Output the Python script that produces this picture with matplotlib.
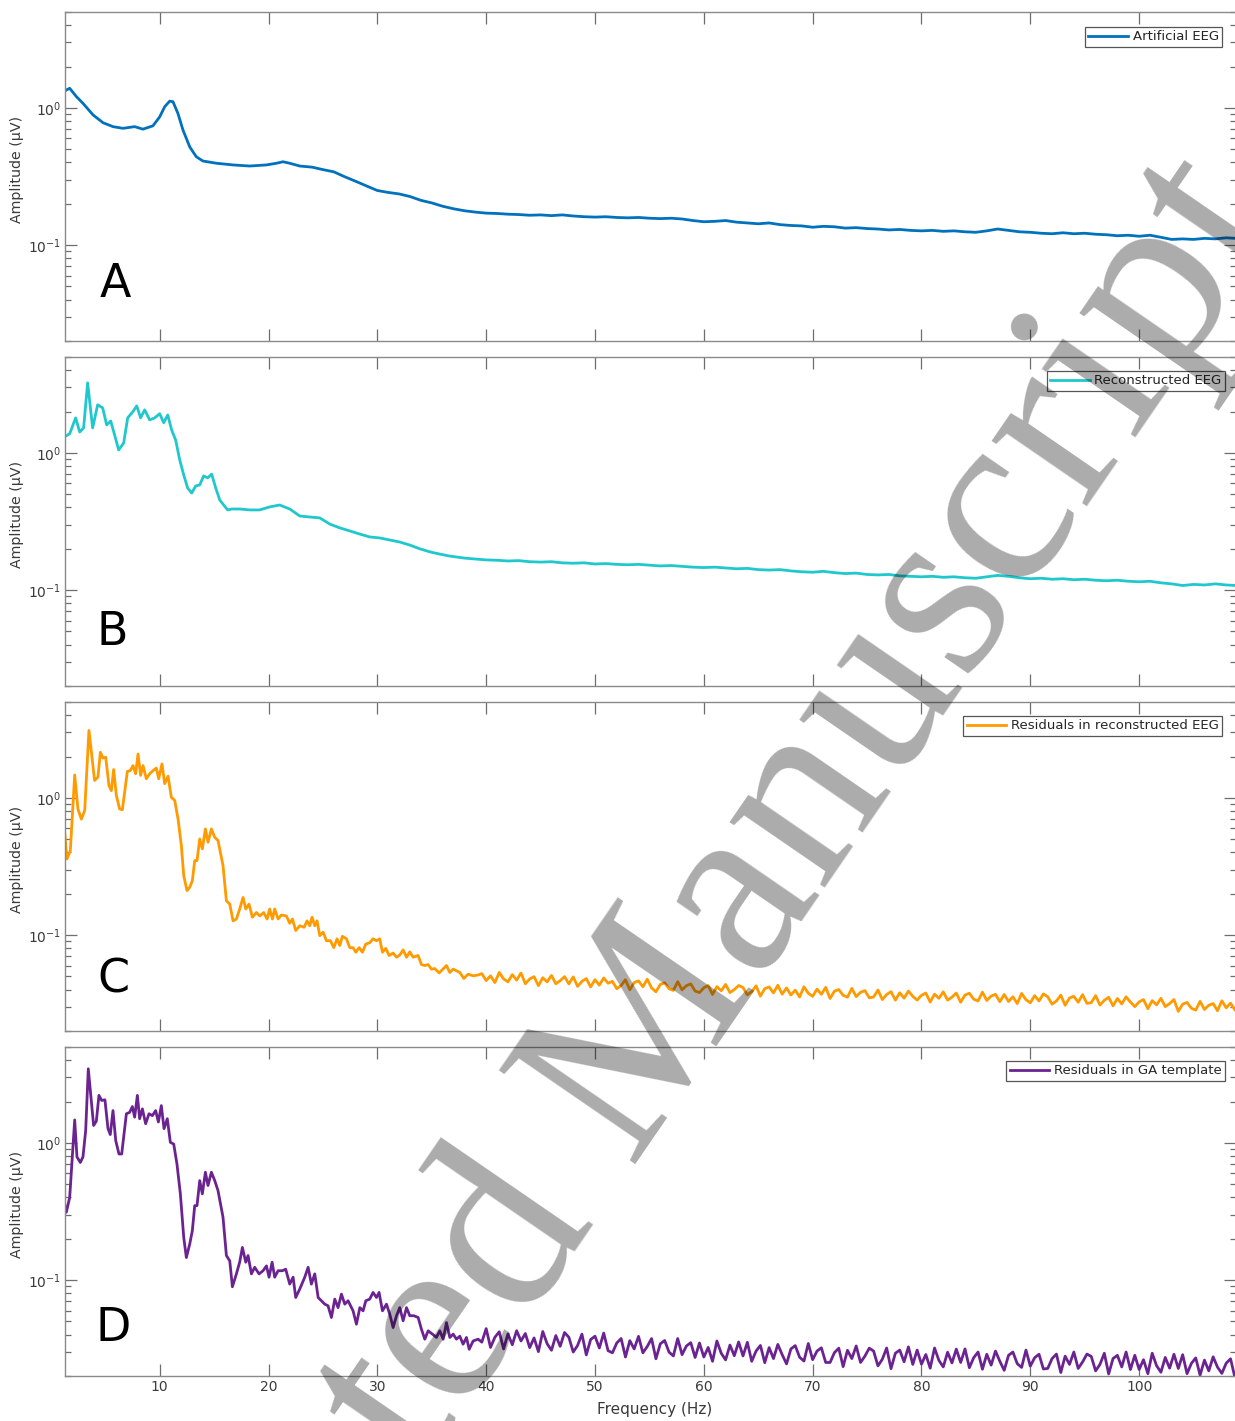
import numpy as np
import matplotlib
matplotlib.use("Agg")
import matplotlib.pyplot as plt
from matplotlib.ticker import LogLocator, NullLocator, NullFormatter, FixedLocator

plt.rcParams['font.family'] = ['DejaVu Sans']

# ---------------- data ----------------
labels = ["Artificial EEG", "Reconstructed EEG",
          "Residuals in reconstructed EEG", "Residuals in GA template"]
panel_letters = ["A", "B", "C", "D"]
colors = ["#0072BD", "#1FC8CC", "#FF9A00", "#6C2392"]

# A: artificial EEG
A_low_f = [1.31, 1.42, 1.73, 2.34, 2.95, 3.87, 4.79, 5.71, 6.63, 7.70, 8.46, 9.38, 10.0, 10.46,
           10.92, 11.22, 11.68, 12.14, 12.76, 13.37, 13.98, 15.21, 16.74, 18.27, 19.81, 20.73,
           21.33, 21.95, 22.87]
A_low_v = [1.33, 1.35, 1.39, 1.21, 1.08, 0.89, 0.78, 0.73, 0.71, 0.73, 0.70, 0.74, 0.86, 1.02,
           1.12, 1.11, 0.91, 0.69, 0.52, 0.44, 0.41, 0.395, 0.384, 0.377, 0.384, 0.395,
           0.405, 0.395, 0.377]
A_high_f = list(range(24, 109)) + [108.9]
A_high_v = [0.370, 0.355, 0.342, 0.315, 0.292, 0.270, 0.250, 0.242, 0.236, 0.226,
            0.212, 0.203, 0.192, 0.184, 0.178, 0.174, 0.171, 0.170, 0.168, 0.167,
            0.165, 0.166, 0.164, 0.166, 0.163, 0.161, 0.160, 0.161, 0.159, 0.158,
            0.159, 0.157, 0.156, 0.157, 0.155, 0.151, 0.148, 0.149, 0.151, 0.147,
            0.145, 0.143, 0.145, 0.141, 0.139, 0.138, 0.135, 0.137, 0.136, 0.133,
            0.134, 0.132, 0.131, 0.129, 0.130, 0.128, 0.127, 0.128, 0.126, 0.127,
            0.125, 0.124, 0.127, 0.131, 0.128, 0.125, 0.124, 0.122, 0.121, 0.123,
            0.121, 0.122, 0.120, 0.119, 0.117, 0.118, 0.116, 0.118, 0.114, 0.110,
            0.111, 0.110, 0.112, 0.111, 0.113, 0.112]

# B: reconstructed EEG
B_low_f = [1.27, 1.73, 2.28, 2.65, 3.01, 3.38, 3.84, 4.30, 4.76, 5.13,
           5.50, 5.86, 6.23, 6.69, 7.06, 7.52, 7.89, 8.25, 8.62, 9.08,
           9.54, 10.0, 10.37, 10.74, 11.10, 11.47, 11.84, 12.21, 12.57, 12.94,
           13.31, 13.68, 14.04, 14.41, 14.78, 15.15, 15.52, 15.88, 16.25, 16.62,
           17.35, 18.27, 19.19, 20.11, 21.03, 21.95, 22.87, 23.79, 24.71, 25.63,
           26.55, 27.47, 28.39, 29.30, 30.22, 31.14, 32.06, 32.98, 33.90, 34.82,
           35.74, 36.66, 38.04, 40.0]
B_low_v = [1.31, 1.38, 1.80, 1.42, 1.52, 3.24, 1.52, 2.24, 2.13, 1.60,
           1.71, 1.35, 1.05, 1.18, 1.80, 1.99, 2.20, 1.80, 2.06, 1.74,
           1.80, 1.93, 1.66, 1.89, 1.47, 1.24, 0.89, 0.69, 0.555, 0.51,
           0.574, 0.584, 0.68, 0.657, 0.70, 0.555, 0.454, 0.417, 0.384, 0.39,
           0.39, 0.384, 0.384, 0.404, 0.417, 0.39, 0.347, 0.341, 0.336, 0.303,
           0.284, 0.27, 0.256, 0.244, 0.24, 0.232, 0.224, 0.213, 0.20, 0.19,
           0.183, 0.177, 0.171, 0.166]
B_high_f = list(range(41, 109)) + [108.9]
B_high_v = [0.165, 0.163, 0.164, 0.161, 0.160, 0.161, 0.158, 0.157, 0.158, 0.155,
            0.156, 0.154, 0.153, 0.154, 0.152, 0.150, 0.151, 0.149, 0.147, 0.146,
            0.147, 0.145, 0.143, 0.144, 0.141, 0.140, 0.141, 0.138, 0.136, 0.135,
            0.137, 0.134, 0.132, 0.133, 0.130, 0.129, 0.130, 0.127, 0.126, 0.125,
            0.126, 0.124, 0.125, 0.123, 0.122, 0.125, 0.128, 0.126, 0.123, 0.121,
            0.122, 0.120, 0.121, 0.119, 0.120, 0.118, 0.117, 0.118, 0.116, 0.115,
            0.116, 0.113, 0.111, 0.108, 0.110, 0.109, 0.111, 0.109, 0.108]

# C: residuals in reconstructed EEG
C_low_f = [1.27, 1.48, 1.79, 2.19, 2.49, 2.80, 3.11, 3.50, 4.02, 4.33,
           4.55, 4.79, 5.04, 5.34, 5.56, 5.77, 6.02, 6.32, 6.57, 7.03,
           7.30, 7.55, 7.79, 8.01, 8.25, 8.47, 8.77, 9.08, 9.39, 9.69,
           9.91, 10.21, 10.46, 10.77, 11.07, 11.38, 11.69, 11.99, 12.21, 12.51,
           12.76, 13.00, 13.22, 13.43, 13.68, 13.92, 14.20, 14.44, 14.75, 15.06,
           15.36, 15.82, 16.13, 16.44, 16.74, 17.05, 17.35, 17.66, 17.91, 18.21,
           18.52, 18.89, 19.19, 19.56, 19.87, 20.11, 20.36, 20.57, 20.88, 21.18,
           21.64, 21.95, 22.20, 22.50, 22.87, 23.27, 23.54, 23.79, 24.00, 24.25,
           24.46, 24.71, 25.02, 25.32, 25.69, 26.00, 26.30, 26.55, 26.79, 27.16,
           27.47, 27.77, 28.02, 28.32, 28.63, 28.94, 29.30, 29.61, 29.92, 30.22,
           30.47, 30.78, 31.08, 31.45, 31.76, 32.06, 32.37, 32.68, 32.98, 33.29,
           33.75, 34.05, 34.36, 34.67, 34.97, 35.28, 35.68, 35.98, 36.35, 36.66,
           36.97, 37.58, 37.95, 38.34, 38.80, 39.26]
C_low_v = [0.562, 0.359, 0.413, 1.47, 0.83, 0.70, 0.81, 3.10, 1.34, 1.42,
           2.15, 1.95, 1.98, 1.23, 1.13, 1.61, 1.04, 0.83, 0.82, 1.56,
           1.58, 1.72, 1.50, 2.09, 1.46, 1.72, 1.38, 1.50, 1.58, 1.65,
           1.38, 1.77, 1.27, 1.44, 1.01, 0.96, 0.70, 0.45, 0.271, 0.211,
           0.223, 0.249, 0.349, 0.349, 0.502, 0.425, 0.594, 0.475, 0.594, 0.516,
           0.489, 0.321, 0.178, 0.168, 0.127, 0.131, 0.155, 0.188, 0.155, 0.168,
           0.135, 0.146, 0.138, 0.146, 0.131, 0.155, 0.131, 0.155, 0.131, 0.140,
           0.138, 0.122, 0.131, 0.108, 0.117, 0.114, 0.127, 0.117, 0.135, 0.117,
           0.127, 0.099, 0.105, 0.091, 0.091, 0.081, 0.094, 0.084, 0.098, 0.094,
           0.081, 0.081, 0.075, 0.081, 0.075, 0.086, 0.088, 0.094, 0.091, 0.094,
           0.075, 0.080, 0.071, 0.074, 0.069, 0.0715, 0.078, 0.069, 0.0755, 0.069,
           0.071, 0.061, 0.060, 0.061, 0.0565, 0.057, 0.053, 0.056, 0.060, 0.0534,
           0.0565, 0.0534, 0.0483, 0.0519, 0.0505, 0.0512]
C_high_v = [0.0524, 0.0466, 0.0505, 0.0451, 0.0534, 0.0480, 0.0456, 0.0515, 0.0470, 0.0529,
            0.0442, 0.0479, 0.0498, 0.0428, 0.0489, 0.0456, 0.0508, 0.0442, 0.0465, 0.0498,
            0.0441, 0.0496, 0.0423, 0.0460, 0.0482, 0.0419, 0.0473, 0.0432, 0.0487, 0.0446,
            0.0460, 0.0407, 0.0429, 0.0473, 0.0399, 0.0451, 0.0464, 0.0420, 0.0477, 0.0412,
            0.0386, 0.0437, 0.0449, 0.0407, 0.0395, 0.0458, 0.0399, 0.0428, 0.0441, 0.0391,
            0.0381, 0.0413, 0.0429, 0.0369, 0.0421, 0.0393, 0.0437, 0.0381, 0.0401, 0.0429,
            0.0415, 0.0367, 0.0387, 0.0427, 0.0359, 0.0407, 0.0419, 0.0379, 0.0431, 0.0371,
            0.0412, 0.0366, 0.0397, 0.0354, 0.0420, 0.0377, 0.0358, 0.0404, 0.0370, 0.0416,
            0.0345, 0.0390, 0.0401, 0.0364, 0.0353, 0.0409, 0.0356, 0.0383, 0.0394, 0.0349,
            0.0354, 0.0398, 0.0339, 0.0369, 0.0387, 0.0336, 0.0380, 0.0347, 0.0391, 0.0358,
            0.0336, 0.0364, 0.0378, 0.0325, 0.0371, 0.0346, 0.0386, 0.0336, 0.0353, 0.0378,
            0.0324, 0.0366, 0.0377, 0.0341, 0.0331, 0.0384, 0.0334, 0.0359, 0.0370, 0.0327,
            0.0369, 0.0328, 0.0355, 0.0317, 0.0376, 0.0338, 0.0321, 0.0362, 0.0331, 0.0373,
            0.0355, 0.0314, 0.0331, 0.0365, 0.0308, 0.0348, 0.0358, 0.0324, 0.0368, 0.0318,
            0.0322, 0.0362, 0.0309, 0.0335, 0.0352, 0.0305, 0.0345, 0.0315, 0.0355, 0.0325,
            0.0301, 0.0326, 0.0339, 0.0291, 0.0333, 0.0310, 0.0346, 0.0301, 0.0317, 0.0339,
            0.0278, 0.0314, 0.0323, 0.0293, 0.0284, 0.0329, 0.0287, 0.0308, 0.0317, 0.0281,
            0.0332, 0.0295, 0.0319, 0.0285]

# D: residuals in GA template
D_low_f = [1.27, 1.42, 1.73, 2.19, 2.40, 2.71, 2.95, 3.20, 3.44, 3.93,
           4.18, 4.42, 4.67, 4.97, 5.25, 5.46, 5.71, 5.96, 6.26, 6.51,
           6.94, 7.24, 7.49, 7.70, 7.95, 8.16, 8.41, 8.71, 9.02, 9.33,
           9.63, 9.88, 10.15, 10.40, 10.70, 10.98, 11.29, 11.59, 11.90, 12.21,
           12.45, 12.76, 13.00, 13.22, 13.43, 13.68, 13.92, 14.20, 14.44, 14.75,
           15.06, 15.36, 15.82, 16.13, 16.44, 16.68, 17.05, 17.35, 17.60, 17.91,
           18.12, 18.43, 18.73, 19.13, 19.50, 19.81, 20.05, 20.33, 20.57, 20.88,
           21.27, 21.58, 21.95, 22.26, 22.50, 22.87, 23.33, 23.64, 23.94, 24.25,
           24.56, 24.86, 25.17, 25.47, 25.78, 26.09, 26.39, 26.70, 27.01, 27.31,
           27.77, 28.08, 28.39, 28.69, 28.94, 29.30, 29.61, 29.92, 30.16, 30.47,
           30.84, 31.14, 31.45, 31.76, 32.06, 32.37, 32.68, 32.98, 33.35, 33.75,
           34.05, 34.36, 34.67, 35.06, 35.43, 35.74, 36.05, 36.35, 36.66, 36.97,
           37.27, 37.58, 37.88, 38.19, 38.44, 38.80, 39.26]
D_low_v = [0.359, 0.312, 0.40, 1.47, 0.79, 0.72, 0.79, 1.23, 3.47, 1.34,
           1.44, 2.22, 2.04, 2.06, 1.27, 1.15, 1.72, 1.04, 0.83, 0.83,
           1.63, 1.67, 1.84, 1.54, 2.22, 1.50, 1.77, 1.38, 1.63, 1.58,
           1.72, 1.42, 1.87, 1.27, 1.50, 1.01, 0.98, 0.70, 0.425, 0.205,
           0.146, 0.183, 0.229, 0.349, 0.349, 0.531, 0.425, 0.611, 0.489, 0.611,
           0.531, 0.449, 0.287, 0.151, 0.138, 0.0894, 0.111, 0.135, 0.173, 0.135,
           0.151, 0.111, 0.124, 0.111, 0.117, 0.127, 0.105, 0.135, 0.105, 0.117,
           0.117, 0.120, 0.0935, 0.105, 0.0747, 0.086, 0.105, 0.124, 0.0935, 0.111,
           0.0747, 0.0707, 0.0668, 0.065, 0.0534, 0.0727, 0.063, 0.079, 0.0668, 0.0707,
           0.0597, 0.0477, 0.063, 0.0597, 0.0707, 0.0727, 0.0813, 0.0747, 0.0813, 0.0597,
           0.0668, 0.0565, 0.0451, 0.055, 0.063, 0.0505, 0.063, 0.055, 0.055, 0.0534,
           0.0439, 0.0371, 0.0427, 0.0404, 0.0382, 0.0427, 0.0371, 0.049, 0.0382, 0.0404,
           0.0371, 0.039, 0.0341, 0.0382, 0.0313, 0.036, 0.0371]
D_high_v = [0.0353, 0.0443, 0.0323, 0.0383, 0.0420, 0.0315, 0.0405, 0.0338, 0.0428, 0.0360,
            0.0408, 0.0322, 0.0379, 0.0301, 0.0422, 0.0344, 0.0308, 0.0394, 0.0329, 0.0415,
            0.0383, 0.0299, 0.0334, 0.0404, 0.0285, 0.0369, 0.0390, 0.0320, 0.0411, 0.0306,
            0.0295, 0.0348, 0.0375, 0.0275, 0.0362, 0.0315, 0.0389, 0.0295, 0.0328, 0.0375,
            0.0267, 0.0343, 0.0363, 0.0299, 0.0280, 0.0375, 0.0286, 0.0331, 0.0350, 0.0273,
            0.0348, 0.0275, 0.0323, 0.0256, 0.0360, 0.0293, 0.0262, 0.0336, 0.0281, 0.0354,
            0.0280, 0.0352, 0.0256, 0.0304, 0.0334, 0.0250, 0.0322, 0.0268, 0.0340, 0.0286,
            0.0245, 0.0315, 0.0333, 0.0274, 0.0257, 0.0345, 0.0263, 0.0304, 0.0321, 0.0251,
            0.0251, 0.0296, 0.0319, 0.0234, 0.0308, 0.0268, 0.0331, 0.0251, 0.0279, 0.0319,
            0.0304, 0.0237, 0.0265, 0.0320, 0.0226, 0.0293, 0.0309, 0.0254, 0.0326, 0.0243,
            0.0309, 0.0244, 0.0287, 0.0228, 0.0320, 0.0260, 0.0233, 0.0298, 0.0249, 0.0314,
            0.0251, 0.0315, 0.0230, 0.0272, 0.0299, 0.0224, 0.0288, 0.0240, 0.0304, 0.0256,
            0.0220, 0.0283, 0.0299, 0.0246, 0.0231, 0.0309, 0.0236, 0.0272, 0.0288, 0.0225,
            0.0227, 0.0268, 0.0289, 0.0212, 0.0279, 0.0243, 0.0299, 0.0227, 0.0253, 0.0289,
            0.0278, 0.0218, 0.0243, 0.0293, 0.0207, 0.0268, 0.0283, 0.0233, 0.0299, 0.0223,
            0.0283, 0.0223, 0.0263, 0.0208, 0.0293, 0.0238, 0.0213, 0.0273, 0.0228, 0.0288,
            0.0227, 0.0286, 0.0208, 0.0247, 0.0271, 0.0203, 0.0261, 0.0218, 0.0276, 0.0232,
            0.0209, 0.0248, 0.0267, 0.0195]

# uniform frequency grid (0.4 Hz) used for the noisy high band of C and D
hf_grid = list(np.linspace(39.6, 108.8, 174))

series_f = [A_low_f + A_high_f, B_low_f + B_high_f,
            C_low_f + hf_grid, D_low_f + hf_grid]
series_v = [A_low_v + A_high_v, B_low_v + B_high_v,
            C_low_v + C_high_v, D_low_v + D_high_v]

x_ticks = [10, 20, 30, 40, 50, 60, 70, 80, 90, 100]

# ---------------- layout ----------------
W, H = 1235, 1421
fig = plt.figure(figsize=(W / 100, H / 100), dpi=100)
fig.patch.set_facecolor("white")

tops = [12, 357, 702, 1047]
axh = 329
left = 65
axw = 1171
letter_pos = [(0.030, 0.134), (0.027, 0.125), (0.028, 0.117), (0.026, 0.107)]
legend_anchor = [(0.988, 0.954), (0.9905, 0.957), (0.988, 0.957), (0.9905, 0.957)]

spine_c = "#8a8a8a"
tick_c = "#6e6e6e"
label_c = "#3a3a3a"

axes = []
for i in range(4):
    ax = fig.add_axes([left / W, 1 - (tops[i] + axh) / H, axw / W, axh / H])
    axes.append(ax)
    f = np.array(series_f[i], dtype=float)
    v = np.array(series_v[i], dtype=float)
    assert len(f) == len(v), (i, len(f), len(v))
    ax.plot(f, v, color=colors[i], lw=2.0, label=labels[i], solid_joinstyle="round")
    ax.set_yscale("log")
    ax.set_ylim(0.02, 5)
    ax.set_xlim(1.3, 108.9)
    ax.xaxis.set_major_locator(FixedLocator(x_ticks))
    ax.xaxis.set_minor_locator(NullLocator())
    ax.yaxis.set_major_locator(LogLocator(base=10, numticks=10))
    ax.yaxis.set_minor_locator(LogLocator(base=10, subs=np.arange(2, 10), numticks=20))
    ax.yaxis.set_minor_formatter(NullFormatter())
    ax.tick_params(which="both", direction="in", top=True, right=True,
                   color=tick_c, labelcolor=label_c, labelsize=10, width=0.9)
    ax.tick_params(which="major", length=8.5, pad=3)
    ax.tick_params(which="minor", length=4.3)
    if i < 3:
        ax.tick_params(axis="x", labelbottom=False)
    for s in ax.spines.values():
        s.set_color(spine_c)
        s.set_linewidth(1.0)
    ax.set_ylabel("Amplitude (µV)", fontsize=10.2, color=label_c)
    ax.yaxis.set_label_coords(-0.035, 0.52)
    ax.text(letter_pos[i][0], letter_pos[i][1], panel_letters[i], transform=ax.transAxes,
            fontsize=33, color="black", ha="left", va="baseline")
    leg = ax.legend(loc="upper right", bbox_to_anchor=legend_anchor[i], borderaxespad=0,
                    fontsize=9.5, frameon=True, fancybox=False, edgecolor="#555555",
                    borderpad=0.25, handlelength=3.0, handletextpad=0.35,
                    framealpha=1.0)
    leg.get_frame().set_linewidth(0.9)
    for t in leg.get_texts():
        t.set_color("#262626")

axes[3].set_xlabel("Frequency (Hz)", fontsize=11, color=label_c)
axes[3].xaxis.set_label_coords((655 - left) / axw, (1376 - 1402) / axh)

# watermark
fig.text(620 / W, 1 - 1080 / H, "Accepted Manuscript", fontsize=182,
         family="Liberation Serif", rotation=55.5, rotation_mode="anchor",
         ha="center", va="center", color="black", alpha=0.33, zorder=10)

fig.savefig("out.png", dpi=100, facecolor="white")
